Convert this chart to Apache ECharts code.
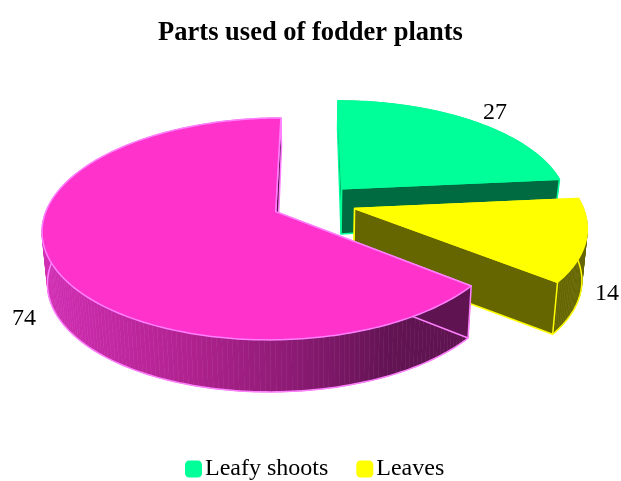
<!DOCTYPE html>
<html>
<head>
<meta charset="utf-8">
<style>html,body{margin:0;padding:0;background:#fff}#chart{width:621px;height:481px}</style>
<script src="https://cdn.jsdelivr.net/npm/echarts@6/dist/echarts.min.js"></script>
</head>
<body>
<div id="chart"></div>
<script>
// chart data
var categories = ['Leafy shoots', 'Leaves', 'Other'];
var values = [27, 14, 74];
var legendNames = ['Leafy shoots', 'Leaves'];

// look of each slice, same order as categories
var topColors = ['#00ff99', '#ffff00', '#ff33cc'];
var edgeColors = ['#00ff99', '#ffff00', '#ff80ff'];
var wallColors = ['#006b40', '#666600', '#5f1350'];
var labelSpots = [[495, 113], [607, 294], [24, 319]];

// perspective of the disc
var cx = 314, cy = 203, radiusX = 227, radiusY = 105.6, tilt = 0.154;
var explode = 0.185, thickness = 52, lowerShrink = 0.98;

var total = values.reduce(function (a, b) { return a + b; }, 0);

function project(x, y, lower) {
  var w = 1 + tilt * y;
  var sx = cx + radiusX * x / w;
  var sy = cy - radiusY * y / w;
  if (lower) {
    sx = cx + (sx - cx) * lowerShrink;
    // the far side of the disc looks thinner
    sy += w > 1 ? Math.max(28, thickness - (w - 1) * 330) : thickness;
  }
  return [sx, sy];
}

function renderSlice(idx) {
  return function (params, api) {
    var before = 0;
    for (var i = 0; i < idx; i++) before += values[i];
    var start = before / total * Math.PI * 2;
    var end = (before + api.value(0)) / total * Math.PI * 2;
    var mid = (start + end) / 2;
    var ox = explode * Math.sin(mid), oy = explode * Math.cos(mid);

    var upper = [], lower = [];
    var steps = Math.ceil((end - start) / 0.02);
    for (var s = 0; s <= steps; s++) {
      var t = start + (end - start) * s / steps;
      upper.push(project(ox + Math.sin(t), oy + Math.cos(t), false));
      lower.push(project(ox + Math.sin(t), oy + Math.cos(t), true));
    }
    var apexTop = project(ox, oy, false);
    var apexLow = project(ox, oy, true);
    var last = upper.length - 1;

    var wallFill = wallColors[idx];
    if (idx === 2) {
      // the big slice darkens from left to right
      wallFill = new echarts.graphic.LinearGradient(40, 0, 470, 0, [
        { offset: 0, color: '#d22eb4' },
        { offset: 0.35, color: '#b0228f' },
        { offset: 0.6, color: '#8a1a72' },
        { offset: 0.82, color: '#611352' },
        { offset: 1, color: '#5f1350' }
      ], true);
    }
    var edge = { stroke: edgeColors[idx], lineWidth: 1.5, lineJoin: 'round' };

    function poly(points, fill) {
      return {
        type: 'polygon',
        shape: { points: points },
        style: Object.assign({ fill: fill }, edge)
      };
    }

    // outer wall as a strip of small quads, so the silhouette stays closed
    var children = [];
    for (var q = 0; q < last; q++) {
      children.push({
        type: 'polygon',
        shape: { points: [upper[q], upper[q + 1], lower[q + 1], lower[q]] },
        style: { fill: wallFill, stroke: wallFill, lineWidth: 0.6 }
      });
    }
    children.push({
      type: 'polyline',
      shape: { points: lower },
      style: { fill: null, stroke: edgeColors[idx], lineWidth: 1.5 }
    });
    children.push(poly([apexTop, upper[0], lower[0], apexLow], wallColors[idx]));
    children.push(poly([apexTop, upper[last], lower[last], apexLow], wallColors[idx]));
    children.push(poly([apexTop].concat(upper), topColors[idx]));
    children.push({
      type: 'text',
      x: labelSpots[idx][0],
      y: labelSpots[idx][1],
      style: {
        text: String(api.value(0)),
        fill: '#000',
        fontFamily: 'Liberation Serif',
        fontSize: 24,
        textAlign: 'center',
        textVerticalAlign: 'middle'
      }
    });
    return { type: 'group', children: children };
  };
}

var chart = echarts.init(document.getElementById('chart'));
chart.setOption({
  animation: false,
  title: {
    text: 'Parts used of fodder plants',
    left: 'center',
    top: 15,
    textStyle: { fontFamily: 'Liberation Serif', fontWeight: 'bold', fontSize: 26.5, color: '#000' }
  },
  legend: {
    data: legendNames,
    left: 180,
    top: 452,
    icon: 'roundRect',
    itemWidth: 17,
    itemHeight: 17,
    itemGap: 28,
    selectedMode: false,
    textStyle: { fontFamily: 'Liberation Serif', fontSize: 24, color: '#000', padding: [0, 0, 0, -2] }
  },
  series: categories.map(function (name, i) {
    return {
      type: 'custom',
      name: name,
      coordinateSystem: 'none',
      silent: true,
      itemStyle: { color: topColors[i] },
      renderItem: renderSlice(i),
      data: [[values[i]]]
    };
  })
});
</script>
</body>
</html>
